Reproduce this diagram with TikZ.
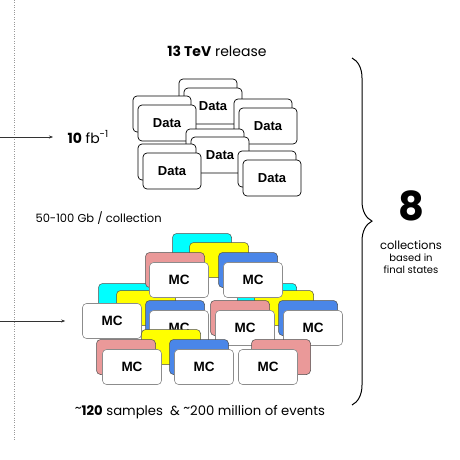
\documentclass[tikz,border=0pt]{standalone}
\usepackage{fontspec}
\setmainfont{Poppins}
\newfontfamily\boxfont{Liberation Sans}
\usetikzlibrary{arrows.meta,decorations.pathreplacing}
\definecolor{mccyan}{RGB}{0,255,255}
\definecolor{mcyellow}{RGB}{255,255,0}
\definecolor{mcpink}{RGB}{234,153,153}
\definecolor{mcblue}{RGB}{74,134,232}
\newcommand{\hitilde}{\raisebox{0.35ex}{\textasciitilde}}

\begin{document}
\begin{tikzpicture}[x=1pt, y=-1pt,
    databox/.style={draw, fill=white, rounded corners=4pt, minimum width=58pt, minimum height=36pt, inner sep=0pt, line width=0.7pt, font=\boxfont\bfseries\fontsize{13}{15}\selectfont},
    mcback/.style={draw=black!70, fill=#1, rounded corners=4pt, minimum width=59pt, minimum height=35pt, inner sep=0pt, line width=0.5pt},
    mcbox/.style={draw=black!45, fill=white, rounded corners=4pt, minimum width=59pt, minimum height=35pt, inner sep=0pt, line width=0.6pt, font=\boxfont\bfseries\fontsize{13.5}{15}\selectfont}]
        \useasboundingbox (0,0) rectangle (460,460);

        % left border and inputs
        \coordinate (dtop) at (14,0);
        \coordinate (dbot) at (14,440);
        \draw [dotted, black!40] (dtop) -- (dbot);

        \node (release) at (217,51) {\fontsize{14}{16}\selectfont\textbf{13 TeV} release};
        \node [anchor=west] (lumi) at (64,137) {\fontsize{14}{16}\selectfont\textbf{10} fb\textsuperscript{-1}};
        \node [anchor=west] (size) at (32,218) {\fontsize{11.5}{13}\selectfont 50-100 Gb / collection};
        \node (samples) at (200,412) {\fontsize{13.2}{15}\selectfont\hitilde\textbf{120} samples\ \ \&\ \hitilde200 million of events};

        \coordinate (in1) at (0,137);
        \coordinate (in2) at (0,321);

        % data collections
        \node [databox] (d1b) at (208,97) {};
        \node [databox] (d1) at (213,106) {Data};
        \node [databox] (d3b) at (263,117) {};
        \node [databox] (d3) at (268,126) {Data};
        \node [databox] (d2b) at (162,114) {};
        \node [databox] (d2) at (167,123) {Data};
        \node [databox] (d4b) at (215,147) {};
        \node [databox] (d4) at (220,155) {Data};
        \node [databox] (d5b) at (167,162) {};
        \node [databox] (d5) at (172,171) {Data};
        \node [databox] (d6b) at (267,169) {};
        \node [databox] (d6) at (272,178) {Data};

        % MC samples
        \node [mcback=mccyan] (c1) at (202,251) {};
        \node [mcback=mcyellow] (y1) at (219,260) {};
        \node [mcback=mccyan] (c2) at (128,301) {};
        \node [mcback=mcyellow] (y2) at (146,308) {};
        \node [mcback=mccyan] (c3) at (267,301) {};
        \node [mcback=mcyellow] (y3) at (284,308) {};

        \node [mcback=mcpink] (p1) at (175,270) {};
        \node [mcbox] (mc1) at (179,280) {MC};
        \node [mcback=mcblue] (b1) at (248,270) {};
        \node [mcbox] (mc2) at (253,280) {MC};

        \node [mcbox] (mc3) at (112,321) {MC};
        \node [mcback=mcblue] (b2) at (175,318) {};
        \node [mcbox] (mc4) at (179,328) {MC};
        \node [mcback=mcpink] (p2) at (240,318) {};
        \node [mcbox] (mc5) at (245,328) {MC};
        \node [mcback=mcblue] (b3) at (308,318) {};
        \node [mcbox] (mc6) at (313,328) {MC};

        \node [mcback=mcyellow] (y4) at (171,347) {};
        \node [mcback=mcpink] (p3) at (126,357) {};
        \node [mcbox] (mc7) at (132,367) {MC};
        \node [mcback=mcblue] (b4) at (199,357) {};
        \node [mcbox] (mc8) at (204,367) {MC};
        \node [mcback=mcpink] (p4) at (281,357) {};
        \node [mcbox] (mc9) at (268,367) {MC};

        \draw [-{Stealth[length=4pt]}, black!80] (in1) -- ([xshift=-11pt]lumi.west);
        \draw [-{Stealth[length=4pt]}, black!80] (in2) -- ([xshift=-17pt]mc3.west);

        % collections
        \coordinate (btop) at (352,58);
        \coordinate (bbot) at (352,405);
        \draw [decorate, decoration={brace, amplitude=20pt, aspect=0.47}, line width=1pt] (btop) -- (bbot);

        \node (eight) at (411,206) {\fontsize{40}{42}\selectfont\bfseries 8};
        \node [align=center] (coll) at (411,257) {\fontsize{11.5}{16}\selectfont collections\\based in\\final states};
\end{tikzpicture}
\end{document}
